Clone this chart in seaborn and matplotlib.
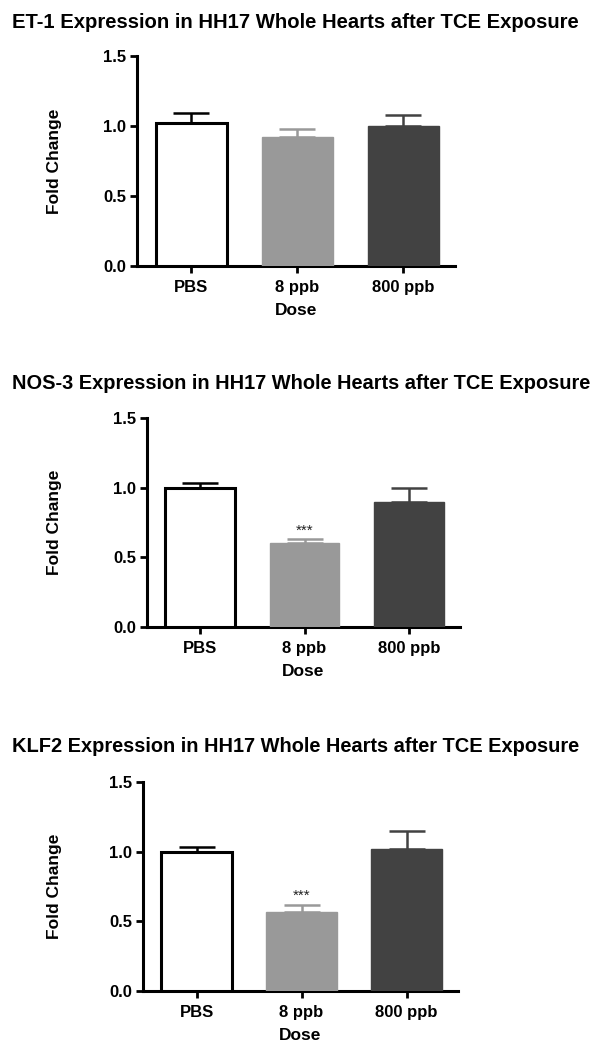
import matplotlib
matplotlib.use("Agg")
import matplotlib.pyplot as plt
import seaborn as sns
import pandas as pd

doses = ["PBS", "8 ppb", "800 ppb"]
titles = [
    "ET-1 Expression in HH17 Whole Hearts after TCE Exposure",
    "NOS-3 Expression in HH17 Whole Hearts after TCE Exposure",
    "KLF2 Expression in HH17 Whole Hearts after TCE Exposure",
]
et1_mean = [1.02, 0.92, 1.00]
et1_sem = [0.07, 0.06, 0.08]
nos3_mean = [1.00, 0.60, 0.90]
nos3_sem = [0.03, 0.03, 0.10]
klf2_mean = [1.00, 0.57, 1.02]
klf2_sem = [0.03, 0.05, 0.13]
stars = [["", "", ""], ["", "***", ""], ["", "***", ""]]

means = [et1_mean, nos3_mean, klf2_mean]
sems = [et1_sem, nos3_sem, klf2_sem]

sns.set_style("white")
plt.rcParams["font.family"] = ["Liberation Sans", "DejaVu Sans"]
plt.rcParams["text.color"] = "black"
plt.rcParams["axes.labelcolor"] = "black"
plt.rcParams["xtick.color"] = "black"
plt.rcParams["ytick.color"] = "black"

fills = ["#ffffff", "#999999", "#424242"]
edges = ["#000000", "#999999", "#424242"]

W, H = 602, 1050
fig = plt.figure(figsize=(W / 100, H / 100), dpi=100)

# pixel boxes: left, right, top(1.5), bottom(0.0)
boxes = [(137, 455, 56, 266), (147, 460, 418, 627), (143, 458, 782, 991)]
title_y = [22, 383, 747]
title_size = [14.55, 14.4, 14.45]

for i, (l, r, t, b) in enumerate(boxes):
    ax = fig.add_axes([l / W, 1 - b / H, (r - l) / W, (b - t) / H])
    df = pd.DataFrame({"Dose": doses, "Fold Change": means[i]})
    sns.barplot(data=df, x="Dose", y="Fold Change", hue="Dose", palette=fills,
                legend=False, width=0.67, ax=ax, saturation=1)
    for j, p in enumerate(ax.patches):
        p.set_edgecolor(edges[j])
        p.set_linewidth(2.2 if j == 0 else 1.0)
        p.set_zorder(3)
    for j in range(3):
        ax.errorbar(j, means[i][j], yerr=[[0], [sems[i][j]]], color=edges[j],
                    capsize=13, capthick=1.8, elinewidth=1.8, zorder=2)
        if stars[i][j]:
            ax.text(j, means[i][j] + sems[i][j] + 0.01, stars[i][j], ha="center",
                    va="bottom", fontsize=11, color="#222222")
    ax.set_ylim(0, 1.5)
    ax.set_xlim(-0.51, 2.49)
    ax.set_yticks([0.0, 0.5, 1.0, 1.5])
    ax.set_yticklabels(["0.0", "0.5", "1.0", "1.5"])
    sns.despine(ax=ax)
    for s in ["left", "bottom"]:
        ax.spines[s].set_linewidth(2.2)
        ax.spines[s].set_color("black")
    ax.tick_params(axis="both", direction="out", length=5, width=2.0, color="black",
                   labelsize=12, pad=3, left=True, bottom=True)
    ax.tick_params(axis="x", pad=5)
    for lab in ax.get_xticklabels() + ax.get_yticklabels():
        lab.set_fontweight("bold")
    ax.set_xlabel("Dose", fontsize=12.5, fontweight="bold")
    ax.set_ylabel("Fold Change", fontsize=12.5, fontweight="bold")
    ax.xaxis.set_label_coords(0.5, -37 / (b - t))
    ax.yaxis.set_label_coords(-(l - 62) / (r - l), 0.5)
    fig.text(12 / W, 1 - title_y[i] / H, titles[i], fontsize=title_size[i],
             fontweight="bold", ha="left", va="center")

fig.savefig("out.png", dpi=100)
